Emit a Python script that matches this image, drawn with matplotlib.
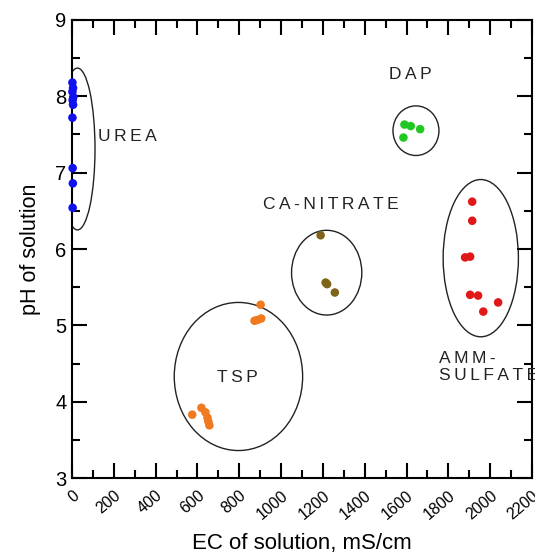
import matplotlib.pyplot as plt
from matplotlib.patches import Ellipse
from matplotlib.ticker import MultipleLocator

plt.rcParams['font.family'] = ['Liberation Sans', 'DejaVu Sans']

# data
urea_ec = [2, 5, 2, 6, 3, 5, 2, 3, 4, 3]
urea_ph = [8.18, 8.11, 8.06, 7.99, 7.95, 7.89, 7.72, 7.06, 6.86, 6.54]

dap_ec = [1590, 1620, 1665, 1585]
dap_ph = [7.63, 7.61, 7.57, 7.46]

can_ec = [1189, 1213, 1220, 1257]
can_ph = [6.18, 5.56, 5.54, 5.43]

tsp_ec = [902, 887, 873, 905, 575, 619, 638, 648, 657, 652]
tsp_ph = [5.27, 5.07, 5.06, 5.09, 3.83, 3.92, 3.86, 3.79, 3.69, 3.74]

amm_ec = [1914, 1914, 1880, 1904, 1904, 1942, 1967, 2038]
amm_ph = [6.62, 6.37, 5.89, 5.90, 5.40, 5.39, 5.18, 5.30]

# ellipses: centre ec, centre ph, width, height
ell_urea = (26, 7.31, 168, 2.12)
ell_dap = (1645, 7.55, 220, 0.65)
ell_can = (1218, 5.69, 336, 1.11)
ell_tsp = (796, 4.33, 614, 1.94)
ell_amm = (1955, 5.88, 360, 2.06)

fig = plt.figure(figsize=(5.35, 5.6), dpi=100)
ax = fig.add_axes([0.1346, 0.1464, 0.8598, 0.8179])

groups = [
    (urea_ec, urea_ph, '#1010f0'),
    (dap_ec, dap_ph, '#22c822'),
    (can_ec, can_ph, '#7d6418'),
    (tsp_ec, tsp_ph, '#f07a20'),
    (amm_ec, amm_ph, '#e01818'),
]
for xs, ys, c in groups:
    ax.scatter(xs, ys, s=38, color=c, edgecolors='none', zorder=3, clip_on=False)

for cx, cy, w, h in [ell_urea, ell_dap, ell_can, ell_tsp, ell_amm]:
    ax.add_patch(Ellipse((cx, cy), w, h, fill=False, edgecolor='#222222', lw=1.0))

sp = '\u2009'
lab_kw = dict(fontsize=12.5, color='#222222')
ax.text(125, 7.47, sp.join('UREA'), ha='left', va='center', **lab_kw)
ax.text(1620, 8.28, sp.join('DAP'), ha='center', va='center', **lab_kw)
ax.text(1237, 6.58, sp.join('CA-NITRATE'), ha='center', va='center', **lab_kw)
ax.text(791, 4.32, sp.join('TSP'), ha='center', va='center', **lab_kw)
ax.text(1755, 4.45, sp.join('AMM-') + '\n' + sp.join('SULFATE'), ha='left',
        va='center', linespacing=1.15, clip_on=False, **lab_kw)

ax.set_xlim(0, 2200)
ax.set_ylim(3, 9)
ax.xaxis.set_major_locator(MultipleLocator(200))
ax.xaxis.set_minor_locator(MultipleLocator(100))
ax.yaxis.set_major_locator(MultipleLocator(1))
ax.yaxis.set_minor_locator(MultipleLocator(0.5))
ax.tick_params(which='both', direction='in', top=True, right=True, width=1.5)
ax.tick_params(which='major', length=11)
ax.tick_params(which='minor', length=6)
ax.tick_params(axis='y', labelsize=14.5, pad=4)
ax.tick_params(axis='x', labelsize=11.5, pad=7)
for lbl in ax.get_xticklabels():
    lbl.set_rotation(40)
    lbl.set_ha('right')
    lbl.set_rotation_mode('anchor')
for s in ax.spines.values():
    s.set_linewidth(1.5)

ax.set_xlabel('EC of solution, mS/cm', fontsize=16, labelpad=8)
ax.set_ylabel('pH of solution', fontsize=15.5, labelpad=10)

fig.savefig('out.png', dpi=100)
